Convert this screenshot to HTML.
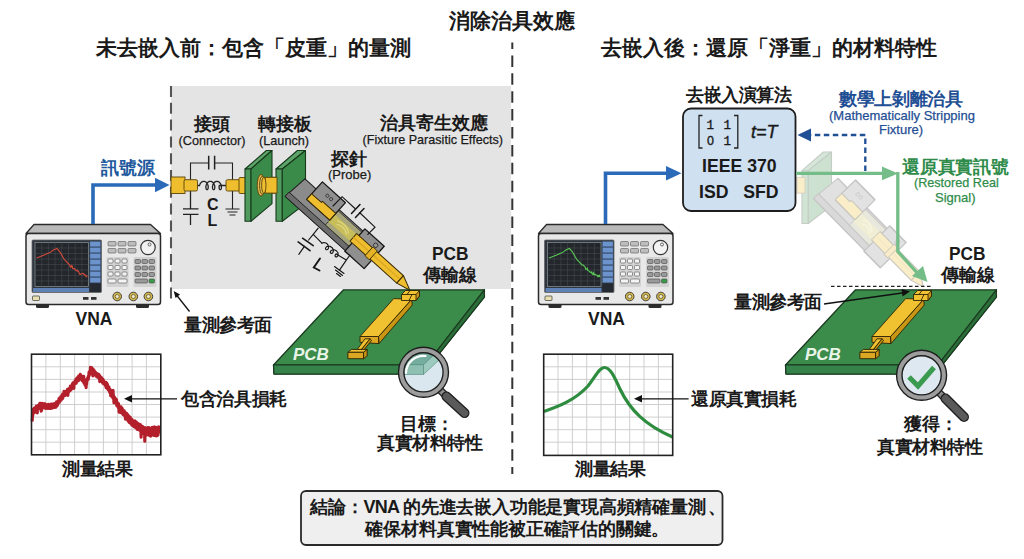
<!DOCTYPE html>
<html><head><meta charset="utf-8">
<style>
html,body{margin:0;padding:0;background:#fff;}
body{width:1024px;height:559px;position:relative;overflow:hidden;font-family:"Liberation Sans",sans-serif;color:#1a1a1a;}
.t{position:absolute;white-space:nowrap;font-weight:bold;line-height:1;}
.s{position:absolute;white-space:nowrap;line-height:1;-webkit-text-stroke:0.25px currentColor;}
svg{position:absolute;left:0;top:0;}
</style></head><body>
<svg width="1024" height="559" viewBox="0 0 1024 559">
<defs>
  <g id="vna">
    <rect x="36" y="302" width="13" height="6" rx="1.5" fill="#2d2d2d"/>
    <rect x="136" y="302" width="13" height="6" rx="1.5" fill="#2d2d2d"/>
    <path d="M34,224.5 L150.5,224.5 L160.5,233.5 L26,233.5 Z" fill="#b9b9b9" stroke="#2a2a2a" stroke-width="1.3" stroke-linejoin="round"/>
    <rect x="26" y="233.5" width="134.5" height="71" rx="2.5" fill="#e8e8e8" stroke="#2a2a2a" stroke-width="1.5"/>
    <rect x="32" y="240" width="69.5" height="52.5" rx="1" fill="#30363f" stroke="#666" stroke-width="0.8"/>
    <rect x="35" y="242.5" width="53.5" height="44" fill="#23272b" stroke="#9aa" stroke-width="0.6"/>
    <g stroke="#4a5058" stroke-width="0.5">
      <line x1="41.7" y1="242.5" x2="41.7" y2="286.5"/><line x1="48.4" y1="242.5" x2="48.4" y2="286.5"/><line x1="55.1" y1="242.5" x2="55.1" y2="286.5"/><line x1="61.8" y1="242.5" x2="61.8" y2="286.5"/><line x1="68.5" y1="242.5" x2="68.5" y2="286.5"/><line x1="75.2" y1="242.5" x2="75.2" y2="286.5"/><line x1="81.9" y1="242.5" x2="81.9" y2="286.5"/>
      <line x1="35" y1="248" x2="88.5" y2="248"/><line x1="35" y1="253.5" x2="88.5" y2="253.5"/><line x1="35" y1="259" x2="88.5" y2="259"/><line x1="35" y1="264.5" x2="88.5" y2="264.5"/><line x1="35" y1="270" x2="88.5" y2="270"/><line x1="35" y1="275.5" x2="88.5" y2="275.5"/><line x1="35" y1="281" x2="88.5" y2="281"/>
    </g>
    <g fill="#6d93cc" stroke="#3d5f90" stroke-width="0.4">
      <rect x="90" y="241.5" width="10.5" height="5.2"/><rect x="90" y="247.5" width="10.5" height="5.2"/><rect x="90" y="253.5" width="10.5" height="5.2"/><rect x="90" y="259.5" width="10.5" height="5.2"/><rect x="90" y="265.5" width="10.5" height="5.2"/><rect x="90" y="271.5" width="10.5" height="5.2"/><rect x="90" y="277.5" width="10.5" height="5.2"/>
    </g>
    <rect x="90" y="283.5" width="10.5" height="8.5" fill="#252a30"/>
    <rect x="33" y="288" width="56" height="4" fill="#5d80b5"/>
    <g fill="#bdbdbd" stroke="#555" stroke-width="0.6">
      <rect x="108" y="241.5" width="8" height="4.5" rx="1"/><rect x="118" y="241.5" width="8" height="4.5" rx="1"/><rect x="128" y="241.5" width="8" height="4.5" rx="1"/>
      <rect x="108" y="248.5" width="8" height="4.5" rx="1"/><rect x="118" y="248.5" width="8" height="4.5" rx="1"/><rect x="128" y="248.5" width="8" height="4.5" rx="1"/>
    </g>
    <circle cx="148" cy="247.5" r="7.2" fill="#f2f2f2" stroke="#333" stroke-width="1.2"/>
    <circle cx="149.5" cy="244.5" r="1.5" fill="none" stroke="#333" stroke-width="0.7"/>
    <rect x="106.5" y="257" width="22" height="30" rx="1.5" fill="#d2d2d2"/>
    <g fill="#f4f4f4" stroke="#555" stroke-width="0.6">
      <rect x="108" y="259" width="5" height="4" rx="1"/><rect x="115" y="259" width="5" height="4" rx="1"/><rect x="122" y="259" width="5" height="4" rx="1"/>
      <rect x="108" y="265.5" width="5" height="4" rx="1"/><rect x="115" y="265.5" width="5" height="4" rx="1"/><rect x="122" y="265.5" width="5" height="4" rx="1"/>
      <rect x="108" y="272" width="5" height="4" rx="1"/><rect x="115" y="272" width="5" height="4" rx="1"/><rect x="122" y="272" width="5" height="4" rx="1"/>
      <rect x="108" y="279" width="8" height="4" rx="1"/><rect x="118" y="279" width="9" height="4" rx="1"/>
    </g>
    <rect x="133.5" y="257" width="23" height="30" rx="1.5" fill="#d2d2d2"/>
    <g fill="#9a9a9a" stroke="#444" stroke-width="0.6">
      <rect x="135" y="259.5" width="5.5" height="4" rx="1"/><rect x="142" y="259.5" width="5.5" height="4" rx="1"/><rect x="149" y="259.5" width="5.5" height="4" rx="1"/>
      <rect x="135" y="266" width="5.5" height="4" rx="1"/><rect x="142" y="266" width="5.5" height="4" rx="1"/><rect x="149" y="266" width="5.5" height="4" rx="1"/>
      <rect x="135" y="272.5" width="5.5" height="4" rx="1"/><rect x="142" y="272.5" width="5.5" height="4" rx="1"/><rect x="149" y="272.5" width="5.5" height="4" rx="1"/>
      <rect x="135" y="279" width="12.5" height="4" rx="1"/>
    </g>
    <rect x="149" y="279" width="5.5" height="4" rx="1" fill="#3c9a4a" stroke="#444" stroke-width="0.6"/>
    <g fill="#d4b84a" stroke="#333" stroke-width="0.9">
      <circle cx="117.2" cy="296.5" r="4.3"/><circle cx="133.3" cy="296.5" r="4.3"/><circle cx="148.4" cy="296.5" r="4.3"/>
    </g>
    <g fill="#f4ecc0" stroke="#333" stroke-width="0.6">
      <circle cx="117.2" cy="296.5" r="2"/><circle cx="133.3" cy="296.5" r="2"/><circle cx="148.4" cy="296.5" r="2"/>
    </g>
    <rect x="32.5" y="296" width="7" height="4.5" rx="0.8" fill="#e8e0b0" stroke="#333" stroke-width="0.7"/>
    <rect x="83" y="297" width="5.5" height="2.8" fill="#333"/><rect x="91" y="297" width="5.5" height="2.8" fill="#333"/>
  </g>
  <g id="pcb">
    <path d="M273.5,365 L274,374 L423,374 L484.4,297 L484.4,289.8 Z" fill="#2f7a3c" stroke="#1b3a20" stroke-width="1.3" stroke-linejoin="round"/>
    <path d="M343.5,289.8 L484.4,289.8 L426,365 L273.5,365 Z" fill="#3b8b4a" stroke="#1b3a20" stroke-width="1.3" stroke-linejoin="round"/>
    <path d="M273.5,365 L426,365 L423,374 L274,374 Z" fill="#35824a" stroke="#1b3a20" stroke-width="1.2" stroke-linejoin="round"/>
    <path d="M426,365 L484.4,289.8 L484.4,297 L423,374 Z" fill="#2a6e38" stroke="#1b3a20" stroke-width="1.2" stroke-linejoin="round"/>
    <!-- trace -->
    <g stroke="#2e2304" stroke-width="0.9" stroke-linejoin="round">
    <path d="M360,336.5 L378.6,336.5 L378.6,343.6 L360,342.3 Z" fill="#dca823"/>
    <path d="M378.6,336.5 L411.6,299.3 L412.3,305 L379,343.6 Z" fill="#c99514"/>
    <path d="M360,336.5 L393.7,298.6 L411.6,299.3 L378.6,336.5 Z" fill="#f0c232"/>
    <path d="M365,338.8 L370,338.8 L361.5,349.5 L357.2,349.5 Z" fill="#f0c232"/>
    <path d="M370,338.8 L371.5,340.5 L363,351 L361.5,349.5 Z" fill="#c99514"/>
    <path d="M347.9,352.3 L351.4,349.4 L367.2,349.4 L363.6,352.3 Z" fill="#f0c232"/>
    <path d="M347.9,352.3 L363.6,352.3 L363.6,358.7 L347.9,358.7 Z" fill="#dca823"/>
    <path d="M363.6,352.3 L367.2,349.4 L367.2,355.8 L363.6,358.7 Z" fill="#c99514"/>
    <path d="M401.5,294.5 L405.5,290.5 L419.5,290.5 L419.5,296 L416,300.5 L401.5,300.5 Z" fill="#f0c232"/>
    <path d="M416,294.5 L419.5,290.5 L419.5,296 L416,300.5 Z" fill="#c99514"/>
    <path d="M401.5,294.5 L416,294.5 M407,294.5 L410,290.5 M409,300.5 L412,294.5" fill="none"/>
    </g>
  </g>
<g id="probeb" stroke-linejoin="round">
  <path d="M3,-24.5 L83,-24.5 L83,1.7 L0,1.7 Z" fill="#8b8b8b" stroke="#1e1e1e" stroke-width="1.1"/>
  <path d="M0,-4 L83,-4 L83,1.7 L0,1.7 Z" fill="#6c6c6c" stroke="#1e1e1e" stroke-width="0.9"/>
  <rect x="49" y="-23" width="32" height="19" fill="#a7a57c" stroke="#2a2a2a" stroke-width="0.8"/>
  <path d="M49,-18 L81,-18 L81,-8.5 L49,-8.5 Z" fill="#c7bd5a" stroke="none"/>
  <path d="M55,-15 C60,-18 68,-17 72,-13 M57,-12 C62,-15 68,-14 71,-11" fill="none" stroke="#e4dc8a" stroke-width="1.1"/>
  <rect x="18" y="-34" width="31" height="23.5" fill="#8f8f8f" stroke="#151515" stroke-width="1.3"/>
  <path d="M18,-10.5 L18,-18 L31,-18 L31,-19.6 L49,-19.6 L49,-10.5 Z" fill="#efbe2e" stroke="#3a2c05" stroke-width="1"/>
  <path d="M31,-27 m-1.6,0 a1.6,1.6 0 1 0 3.2,0 a1.6,1.6 0 1 0 -3.2,0 M36,-27 m-1.6,0 a1.6,1.6 0 1 0 3.2,0 a1.6,1.6 0 1 0 -3.2,0" fill="none" stroke="#222" stroke-width="0.7"/>
  <rect x="81" y="-27.5" width="26" height="30" fill="#8f8f8f" stroke="#151515" stroke-width="1.3"/>
  <circle cx="100" cy="-22.5" r="2.2" fill="#999" stroke="#222" stroke-width="0.8"/>
  <rect x="78" y="-18.5" width="63" height="10" fill="#efbe2e" stroke="#3a2c05" stroke-width="1"/>
  <path d="M78,-13.5 L141,-13.5" stroke="#d9a520" stroke-width="1.2"/>
  <rect x="99" y="-19.5" width="6" height="12" rx="1" fill="#e6b326" stroke="#3a2c05" stroke-width="0.9"/>
  <path d="M141,-18.5 L155.5,-12 L141,-8.5 Z" fill="#efbe2e" stroke="#3a2c05" stroke-width="1"/>
</g>
</defs>

<!-- grey box -->
<rect x="171" y="86" width="340" height="203" fill="#e4e4e4"/>
<line x1="171" y1="86" x2="171" y2="302" stroke="#555" stroke-width="2.1" stroke-dasharray="11 5.8"/>
<line x1="512.3" y1="42.4" x2="512.3" y2="474" stroke="#333" stroke-width="2.0" stroke-dasharray="11.5 6.4" stroke-dashoffset="4.9"/>

<!-- LEFT: VNA + arrow -->
<use href="#vna"/>
<g transform="translate(0,0)">
<path d="M93,224 L93,185 L157,185" fill="none" stroke="#2a6ab8" stroke-width="3.6"/>
<path d="M155,177.8 L169.5,185 L155,192.2 Z" fill="#2a6ab8"/>
</g>
<!-- screen curve left -->
<path d="M36.5,258.0 L37.1,257.7 L37.8,257.5 L38.4,257.2 L39.0,257.0 L39.7,256.7 L40.3,256.5 L41.0,256.2 L41.6,256.0 L42.2,255.7 L42.9,255.4 L43.5,255.2 L44.1,254.9 L44.8,254.7 L45.4,254.4 L46.1,254.1 L46.7,253.9 L47.3,253.6 L48.0,253.3 L48.6,253.1 L49.2,252.8 L49.9,252.5 L50.5,252.1 L51.2,251.6 L51.8,251.1 L52.4,250.7 L53.1,250.2 L53.7,249.7 L54.4,249.4 L55.0,249.2 L55.6,249.0 L56.3,248.7 L56.9,248.5 L57.5,249.1 L58.2,249.9 L58.8,250.6 L59.5,251.4 L60.1,252.2 L60.7,253.3 L61.4,254.4 L62.0,255.5 L62.6,256.6 L63.3,257.7 L63.9,258.8 L64.5,259.6 L65.2,260.3 L65.8,261.0 L66.5,261.7 L67.1,262.4 L67.7,263.0 L68.4,263.7 L69.0,264.4 L69.7,265.1 L70.3,266.9 L70.9,267.4 L71.6,265.5 L72.2,266.1 L72.8,268.5 L73.5,268.7 L74.1,269.0 L74.8,268.6 L75.4,269.8 L76.0,270.3 L76.7,270.7 L77.3,270.1 L77.9,271.3 L78.6,271.7 L79.2,273.0 L79.8,274.2 L80.5,274.4 L81.1,273.7 L81.8,273.7 L82.4,273.6 L83.0,273.3 L83.7,273.6 L84.3,275.0 L85.0,274.8 L85.6,275.1 L86.2,276.7 L86.9,275.9 L87.5,276.2" fill="none" stroke="#d84a3e" stroke-width="1.1"/>

<!-- connector circuit -->
<g stroke="#222" stroke-width="1.1" fill="none">
  <path d="M190.5,180 L190.5,163 L208.7,163 M214.6,163 L232.5,163 L232.5,180"/>
  <path d="M208.7,155.7 L208.7,169.5 M214.6,155.7 L214.6,169.5" stroke-width="1.5"/>
  <path d="M190.5,191 L190.5,208.9 M183,208.9 L198.5,208.9 M183,214.3 L198.5,214.3 M190.5,214.3 L190.5,225" stroke-width="1.3"/>
  <path d="M232.5,191 L232.5,209 M225.5,209 L239.5,209 M227.5,212 L237.5,212 M229.5,215 L235.5,215"/>
  <path d="M197,185.5 L199.5,185.5 L199.7,184.9 L199.9,184.4 L200.1,183.8 L200.4,183.3 L200.8,182.9 L201.2,182.5 L201.6,182.1 L202.0,181.8 L202.5,181.6 L202.9,181.4 L203.4,181.3 L203.9,181.3 L204.4,181.4 L204.9,181.5 L205.3,181.7 L205.8,182.0 L206.2,182.3 L206.6,182.7 L207.0,183.2 L207.3,183.7 L207.5,184.2 L207.8,184.8 L207.9,185.3 L208.1,185.9 L208.2,186.4 L208.2,187.0 L208.2,187.5 L208.2,188.0 L208.1,188.4 L208.0,188.8 L207.8,189.1 L207.6,189.4 L207.5,189.5 L207.3,189.7 L207.0,189.7 L206.8,189.7 L206.6,189.5 L206.5,189.4 L206.3,189.1 L206.1,188.8 L206.0,188.4 L205.9,188.0 L205.9,187.5 L205.9,187.0 L205.9,186.4 L206.0,185.9 L206.1,185.3 L206.3,184.8 L206.6,184.2 L206.8,183.7 L207.1,183.2 L207.5,182.7 L207.9,182.3 L208.3,182.0 L208.7,181.7 L209.2,181.5 L209.7,181.4 L210.2,181.3 L210.7,181.3 L211.2,181.4 L211.6,181.6 L212.1,181.8 L212.5,182.1 L212.9,182.5 L213.3,182.9 L213.7,183.3 L214.0,183.8 L214.2,184.4 L214.4,184.9 L214.6,185.5 L214.7,186.1 L214.8,186.6 L214.8,187.2 L214.8,187.7 L214.7,188.1 L214.6,188.5 L214.5,188.9 L214.4,189.2 L214.2,189.4 L214.0,189.6 L213.8,189.7 L213.6,189.7 L213.4,189.6 L213.2,189.5 L213.0,189.3 L212.8,189.0 L212.7,188.7 L212.6,188.3 L212.5,187.8 L212.5,187.3 L212.5,186.8 L212.5,186.2 L212.7,185.7 L212.8,185.1 L213.0,184.6 L213.2,184.0 L213.5,183.5 L213.9,183.0 L214.2,182.6 L214.6,182.2 L215.0,181.9 L215.5,181.6 L216.0,181.5 L216.5,181.3 L216.9,181.3 L217.4,181.3 L217.9,181.5 L218.4,181.6 L218.8,181.9 L219.3,182.2 L219.7,182.6 L220.0,183.0 L220.4,183.5 L220.7,184.0 L220.9,184.6 L221.1,185.1 L221.2,185.7 L221.3,186.2 L221.4,186.8 L221.4,187.3 L221.4,187.8 L221.3,188.3 L221.2,188.7 L221.1,189.0 L220.9,189.3 L220.7,189.5 L220.5,189.6 L220.3,189.7 L220.1,189.7 L219.9,189.6 L219.7,189.4 L219.5,189.2 L219.4,188.9 L219.2,188.5 L219.2,188.1 L219.1,187.7 L219.1,187.2 L219.1,186.6 L219.2,186.1 L219.3,185.5 L226,185.5" stroke-width="1.3"/>
</g>
<g stroke="#5a4308" stroke-width="0.9">
  <rect x="171" y="177" width="14" height="16.5" fill="#efbe2e"/>
  <rect x="184" y="179.7" width="13.5" height="11.3" rx="1.5" fill="#efbe2e"/>
  <rect x="226" y="179.7" width="14" height="11.3" rx="1.5" fill="#efbe2e"/>
  <rect x="239" y="177.5" width="7" height="16" rx="1" fill="#efbe2e"/>
  <rect x="260" y="177.3" width="17" height="15.8" fill="#efbe2e"/>
</g>
<!-- boards -->
<g stroke="#173a1c" stroke-width="1.1" stroke-linejoin="round">
  <path d="M245,169 L266.4,150.5 L272,150.5 L251,169 Z" fill="#5ea46a"/>
  <path d="M245,169 L251,169 L251,221.3 L245,221.3 Z" fill="#4f9a5c"/>
  <path d="M251,169 L272,150.5 L272,203.6 L251,221.3 Z" fill="#3a8a49"/>
  <path d="M276,169 L297.4,150.5 L305.5,150.5 L282.3,169 Z" fill="#5ea46a"/>
  <path d="M276,169 L282.3,169 L282.3,221.3 L276,221.3 Z" fill="#4f9a5c"/>
  <path d="M282.3,169 L305.5,150.5 L305.5,203.6 L282.3,221.3 Z" fill="#3a8a49"/>
</g>
<g stroke="#5a4308" stroke-width="0.9">
  <rect x="265" y="177.3" width="12" height="15.8" fill="#efbe2e"/>
  <ellipse cx="261" cy="185.3" rx="3.8" ry="10.8" fill="#e2b850"/>
  <ellipse cx="262.2" cy="185.3" rx="2.6" ry="9" fill="#ecc45a"/>
  <ellipse cx="263.8" cy="185.3" rx="2.2" ry="8" fill="#efbe2e"/>
</g>

<!-- probe -->
<use href="#probeb" transform="translate(286.3,195.1) rotate(42)"/>
<!-- probe circuits -->
<g stroke="#151515" stroke-width="1.15" fill="none" stroke-linecap="round">
  <path d="M333,206 L342.1,196.7 L355,208.5"/>
  <path d="M351.5,213.5 L360,204.5 M355.5,217.5 L364,208.5" stroke-width="1.5"/>
  <path d="M359.5,212.5 L375,227.2 L367.8,234.4"/>
  <path d="M318.2,228.1 L313.2,234.4 L308.6,240 M313.2,234.4 L321.9,243.2"/>
  <path d="M302.5,238.2 L313.2,245.7 M298.1,241.9 L310,250.7" stroke-width="1.5"/>
  <path d="M304.4,246.3 L298.8,254.4"/>
  <path d="M321.9,243.2 L322.3,243.0 L322.7,242.8 L323.2,242.7 L323.7,242.6 L324.2,242.6 L324.7,242.7 L325.3,242.8 L325.8,243.0 L326.3,243.3 L326.7,243.6 L327.2,243.9 L327.5,244.4 L327.9,244.8 L328.1,245.3 L328.3,245.7 L328.5,246.2 L328.6,246.7 L328.6,247.2 L328.5,247.7 L328.4,248.1 L328.3,248.5 L328.1,248.9 L327.9,249.2 L327.6,249.4 L327.3,249.6 L327.0,249.7 L326.7,249.7 L326.5,249.7 L326.2,249.7 L326.0,249.5 L325.8,249.4 L325.7,249.1 L325.6,248.9 L325.5,248.6 L325.6,248.3 L325.7,248.0 L325.8,247.6 L326.0,247.3 L326.3,247.0 L326.7,246.8 L327.1,246.6 L327.5,246.4 L328.0,246.3 L328.5,246.2 L329.0,246.2 L329.5,246.3 L330.0,246.4 L330.5,246.6 L331.0,246.9 L331.5,247.2 L331.9,247.5 L332.3,247.9 L332.6,248.4 L332.9,248.9 L333.1,249.3 L333.2,249.8 L333.3,250.3 L333.3,250.8 L333.3,251.3 L333.2,251.7 L333.1,252.1 L332.9,252.5 L332.6,252.8 L332.4,253.0 L332.1,253.2 L331.8,253.3 L331.5,253.3 L331.2,253.3 L331.0,253.3 L330.8,253.1 L330.6,252.9 L330.4,252.7 L330.3,252.5 L330.3,252.2 L330.3,251.9 L330.4,251.5 L330.6,251.2 L330.8,250.9 L331.1,250.6 L331.4,250.4 L331.8,250.2 L332.3,250.0 L332.7,249.9 L333.2,249.8 L333.7,249.8 L334.3,249.9 L334.8,250.0 L335.3,250.2 L335.8,250.5 L336.3,250.8 L336.7,251.1 L337.1,251.5 L337.4,252.0 L337.7,252.4 L337.9,252.9 L338.0,253.4 L338.1,253.9 L338.1,254.4 L338.1,254.9 L338.0,255.3 L337.8,255.7 L337.6,256.1 L337.4,256.4 L337.1,256.6 L336.9,256.8 L336.6,256.9 L336.3,256.9 L336.0,256.9 L335.7,256.8 L335.5,256.7 L335.3,256.5 L335.2,256.3 L335.1,256.1 L335.1,255.8 L335.1,255.5 L335.2,255.1 L335.4,254.8 L335.6,254.5 L335.9,254.2 L336.2,254.0"/>
  <path d="M336.2,254.0 L346.3,260.1 L350,255 M346.3,260.1 L339.5,270.1"/>
  <path d="M334.5,266.5 L344,273.5 M335.5,270 L342.5,275.5 M336.5,273.5 L340.5,276.5"/>
  <path d="M320,258.5 L313.8,267.5 L319.5,270.5" stroke-width="1.9"/>
</g>

<!-- PCB left -->
<use href="#pcb"/>

<!-- magnifier left -->
<clipPath id="lensL"><circle cx="423.5" cy="372.3" r="19.5"/></clipPath>
<g>
  <path d="M439,389 L446,396" stroke="#222" stroke-width="7.5"/>
  <path d="M439,389 L446,396" stroke="#8a8a8a" stroke-width="5"/>
  <path d="M446.5,396.5 L464.5,413" stroke="#1e1e1e" stroke-width="10" stroke-linecap="round"/>
  <path d="M446.5,396.5 L464.5,413" stroke="#5a5a5a" stroke-width="7.4" stroke-linecap="round"/>
  <circle cx="423.5" cy="372.3" r="19.5" fill="#dae7ee"/>
  <g clip-path="url(#lensL)" stroke="#4f8a7a" stroke-width="0.6" stroke-linejoin="round">
    <path d="M395,340 L450,340 L434.3,354.8 L423.5,364.7 L395,364.7 Z" fill="#74ad9d"/>
    <path d="M395,364.7 L423.5,364.7 L423.5,374.5 L395,374.5 Z" fill="#8dc0b1"/>
    <path d="M423.5,364.7 L450,340 L455,345 L423.5,374.5 Z" fill="#9ccabd"/>
  </g>
  <path d="M406,373 A17.5,17.5 0 0 1 425.5,356" fill="none" stroke="#fff" stroke-width="2.2" stroke-linecap="round"/>
  <circle cx="423.5" cy="372.3" r="22.3" fill="none" stroke="#9d9d9d" stroke-width="5"/>
  <circle cx="423.5" cy="372.3" r="25" fill="none" stroke="#1e1e1e" stroke-width="1.4"/>
  <circle cx="423.5" cy="372.3" r="19.6" fill="none" stroke="#1e1e1e" stroke-width="1.4"/>
</g>
<!-- left plot -->
<rect x="31.5" y="354.2" width="129.3" height="100.6" fill="#fff"/>
<g stroke="#c9c9c9" stroke-width="0.9">
  <line x1="45.9" y1="354" x2="45.9" y2="455"/><line x1="60.3" y1="354" x2="60.3" y2="455"/><line x1="74.6" y1="354" x2="74.6" y2="455"/><line x1="89" y1="354" x2="89" y2="455"/><line x1="103.4" y1="354" x2="103.4" y2="455"/><line x1="117.7" y1="354" x2="117.7" y2="455"/><line x1="132.1" y1="354" x2="132.1" y2="455"/><line x1="146.4" y1="354" x2="146.4" y2="455"/>
  <line x1="31.5" y1="366.8" x2="161" y2="366.8"/><line x1="31.5" y1="379.4" x2="161" y2="379.4"/><line x1="31.5" y1="392" x2="161" y2="392"/><line x1="31.5" y1="404.5" x2="161" y2="404.5"/><line x1="31.5" y1="417.1" x2="161" y2="417.1"/><line x1="31.5" y1="429.7" x2="161" y2="429.7"/><line x1="31.5" y1="442.2" x2="161" y2="442.2"/>
</g>
<path id="redc" d="M32.00,421.5 L32.18,420.5 L32.36,418.5 L32.55,413.3 L32.73,415.9 L32.91,413.9 L33.09,411.6 L33.27,411.8 L33.46,409.1 L33.64,410.2 L33.82,412.3 L34.00,412.3 L34.19,411.2 L34.37,408.1 L34.55,408.9 L34.73,412.4 L34.91,408.9 L35.10,410.0 L35.28,408.2 L35.46,410.3 L35.64,411.1 L35.83,408.4 L36.01,407.1 L36.19,407.7 L36.37,406.1 L36.55,407.5 L36.74,409.6 L36.92,407.0 L37.10,408.7 L37.28,412.9 L37.46,406.9 L37.65,406.8 L37.83,408.6 L38.01,407.8 L38.19,408.8 L38.38,405.2 L38.56,406.1 L38.74,408.0 L38.92,405.7 L39.10,407.1 L39.29,404.5 L39.47,407.6 L39.65,405.2 L39.83,403.3 L40.01,406.0 L40.20,406.0 L40.38,406.5 L40.56,406.2 L40.74,405.1 L40.92,403.2 L41.11,411.1 L41.29,406.8 L41.47,404.9 L41.65,410.4 L41.84,404.0 L42.02,405.7 L42.20,407.4 L42.38,403.9 L42.56,403.4 L42.75,403.8 L42.93,406.2 L43.11,405.7 L43.29,406.6 L43.48,404.6 L43.66,407.7 L43.84,407.3 L44.02,404.3 L44.20,407.6 L44.39,405.8 L44.57,406.1 L44.75,403.8 L44.93,405.3 L45.11,403.8 L45.30,406.3 L45.48,407.7 L45.66,408.4 L45.84,408.3 L46.02,404.6 L46.21,406.1 L46.39,405.4 L46.57,405.3 L46.75,407.2 L46.94,405.3 L47.12,408.5 L47.30,408.5 L47.48,408.2 L47.66,405.8 L47.85,404.8 L48.03,405.0 L48.21,408.1 L48.39,404.4 L48.58,406.0 L48.76,408.5 L48.94,408.4 L49.12,406.6 L49.30,405.2 L49.49,404.8 L49.67,406.8 L49.85,407.5 L50.03,407.3 L50.21,408.5 L50.40,408.0 L50.58,408.4 L50.76,406.3 L50.94,405.4 L51.12,404.0 L51.31,407.1 L51.49,405.3 L51.67,407.7 L51.85,406.9 L52.04,408.2 L52.22,405.0 L52.40,406.0 L52.58,404.9 L52.76,404.1 L52.95,406.1 L53.13,405.7 L53.31,405.2 L53.49,404.3 L53.67,403.8 L53.86,406.5 L54.04,404.9 L54.22,405.9 L54.40,407.5 L54.59,405.3 L54.77,405.6 L54.95,406.6 L55.13,407.3 L55.31,406.0 L55.50,404.6 L55.68,403.1 L55.86,404.2 L56.04,407.1 L56.23,404.4 L56.41,405.8 L56.59,401.9 L56.77,402.9 L56.95,405.1 L57.14,402.4 L57.32,405.6 L57.50,403.5 L57.68,403.5 L57.86,403.7 L58.05,403.6 L58.23,402.2 L58.41,400.8 L58.59,401.4 L58.77,402.5 L58.96,398.9 L59.14,400.7 L59.32,402.5 L59.50,398.1 L59.69,399.8 L59.87,400.9 L60.05,399.6 L60.23,398.9 L60.41,400.9 L60.60,398.0 L60.78,396.6 L60.96,399.4 L61.14,397.2 L61.33,400.0 L61.51,397.7 L61.69,397.5 L61.87,395.6 L62.05,398.6 L62.24,395.5 L62.42,398.0 L62.60,394.1 L62.78,398.4 L62.96,394.2 L63.15,396.3 L63.33,396.4 L63.51,394.2 L63.69,393.3 L63.88,394.4 L64.06,391.2 L64.24,395.6 L64.42,394.6 L64.60,393.6 L64.79,391.6 L64.97,394.6 L65.15,392.8 L65.33,395.4 L65.51,392.2 L65.70,393.9 L65.88,394.9 L66.06,391.3 L66.24,391.2 L66.42,391.2 L66.61,393.6 L66.79,391.7 L66.97,392.2 L67.15,392.4 L67.34,389.6 L67.52,389.9 L67.70,390.9 L67.88,395.4 L68.06,392.3 L68.25,390.1 L68.43,391.5 L68.61,392.1 L68.79,388.5 L68.97,389.1 L69.16,388.5 L69.34,390.3 L69.52,388.6 L69.70,388.3 L69.89,389.4 L70.07,390.6 L70.25,386.9 L70.43,386.0 L70.61,386.6 L70.80,390.0 L70.98,387.0 L71.16,386.6 L71.34,389.4 L71.53,386.9 L71.71,387.6 L71.89,388.4 L72.07,386.3 L72.25,384.3 L72.44,387.1 L72.62,383.5 L72.80,384.7 L72.98,384.4 L73.16,382.7 L73.35,386.5 L73.53,385.9 L73.71,384.1 L73.89,388.5 L74.08,382.6 L74.26,383.1 L74.44,382.7 L74.62,383.0 L74.80,384.0 L74.99,381.1 L75.17,383.3 L75.35,382.9 L75.53,380.9 L75.71,382.6 L75.90,379.3 L76.08,382.9 L76.26,383.2 L76.44,379.6 L76.62,378.6 L76.81,381.2 L76.99,380.1 L77.17,377.7 L77.35,379.4 L77.54,381.2 L77.72,377.7 L77.90,379.6 L78.08,377.4 L78.26,379.9 L78.45,380.6 L78.63,376.0 L78.81,378.4 L78.99,376.9 L79.17,378.6 L79.36,379.4 L79.54,378.7 L79.72,376.9 L79.90,376.3 L80.09,375.0 L80.27,374.3 L80.45,376.2 L80.63,378.1 L80.81,377.7 L81.00,377.1 L81.18,378.4 L81.36,379.5 L81.54,375.9 L81.72,377.6 L81.91,376.0 L82.09,380.8 L82.27,376.7 L82.45,380.1 L82.64,380.0 L82.82,381.2 L83.00,378.2 L83.18,378.7 L83.36,381.4 L83.55,378.7 L83.73,376.4 L83.91,382.9 L84.09,380.4 L84.28,379.5 L84.46,380.3 L84.64,381.7 L84.82,383.2 L85.00,385.2 L85.19,383.7 L85.37,381.7 L85.55,383.4 L85.73,383.2 L85.91,382.9 L86.10,387.7 L86.28,384.0 L86.46,383.7 L86.64,384.1 L86.83,379.9 L87.01,379.1 L87.19,380.7 L87.37,379.6 L87.55,378.4 L87.74,379.2 L87.92,379.4 L88.10,376.9 L88.28,379.3 L88.46,378.0 L88.65,375.3 L88.83,376.7 L89.01,372.3 L89.19,371.9 L89.38,375.1 L89.56,374.0 L89.74,372.8 L89.92,371.9 L90.10,373.9 L90.29,370.7 L90.47,367.2 L90.65,369.6 L90.83,369.2 L91.01,370.3 L91.20,370.9 L91.38,371.8 L91.56,367.8 L91.74,369.6 L91.92,367.9 L92.11,369.0 L92.29,368.3 L92.47,371.2 L92.65,373.0 L92.84,376.0 L93.02,369.0 L93.20,373.6 L93.38,370.8 L93.56,373.8 L93.75,372.2 L93.93,370.1 L94.11,371.5 L94.29,372.0 L94.47,373.4 L94.66,373.9 L94.84,371.5 L95.02,372.2 L95.20,374.9 L95.39,374.3 L95.57,372.3 L95.75,372.7 L95.93,375.3 L96.11,376.2 L96.30,373.8 L96.48,375.1 L96.66,375.2 L96.84,374.9 L97.03,373.6 L97.21,375.5 L97.39,374.8 L97.57,377.3 L97.75,375.2 L97.94,374.7 L98.12,376.2 L98.30,375.2 L98.48,377.6 L98.66,374.3 L98.85,374.8 L99.03,374.7 L99.21,376.8 L99.39,379.1 L99.58,377.9 L99.76,381.7 L99.94,375.8 L100.12,378.5 L100.30,379.4 L100.49,379.9 L100.67,379.6 L100.85,381.0 L101.03,381.2 L101.21,377.3 L101.40,378.0 L101.58,379.4 L101.76,381.0 L101.94,379.6 L102.12,379.6 L102.31,380.9 L102.49,381.5 L102.67,383.1 L102.85,379.0 L103.04,382.3 L103.22,379.6 L103.40,381.0 L103.58,383.9 L103.76,381.1 L103.95,383.2 L104.13,382.9 L104.31,381.9 L104.49,383.0 L104.67,382.7 L104.86,384.1 L105.04,382.4 L105.22,383.6 L105.40,384.1 L105.59,386.2 L105.77,383.7 L105.95,382.2 L106.13,387.8 L106.31,387.2 L106.50,383.1 L106.68,383.9 L106.86,383.3 L107.04,388.2 L107.22,387.9 L107.41,384.3 L107.59,388.3 L107.77,389.0 L107.95,388.4 L108.14,388.3 L108.32,387.8 L108.50,390.0 L108.68,388.5 L108.86,386.9 L109.05,387.9 L109.23,388.9 L109.41,391.7 L109.59,389.8 L109.78,389.3 L109.96,392.8 L110.14,389.8 L110.32,389.7 L110.50,394.0 L110.69,395.8 L110.87,393.2 L111.05,391.7 L111.23,391.0 L111.41,391.6 L111.60,394.7 L111.78,392.8 L111.96,396.6 L112.14,395.2 L112.33,393.2 L112.51,394.5 L112.69,396.1 L112.87,398.1 L113.05,390.3 L113.24,394.9 L113.42,394.8 L113.60,397.5 L113.78,399.3 L113.96,403.0 L114.15,399.9 L114.33,398.4 L114.51,397.0 L114.69,399.7 L114.88,400.1 L115.06,399.4 L115.24,402.1 L115.42,401.5 L115.60,398.5 L115.79,401.8 L115.97,401.5 L116.15,401.1 L116.33,401.8 L116.51,399.6 L116.70,405.4 L116.88,402.1 L117.06,405.9 L117.24,402.3 L117.42,405.2 L117.61,406.1 L117.79,403.9 L117.97,403.4 L118.15,407.2 L118.34,407.7 L118.52,403.6 L118.70,407.4 L118.88,407.3 L119.06,412.3 L119.25,406.4 L119.43,406.9 L119.61,407.7 L119.79,409.0 L119.97,412.4 L120.16,409.3 L120.34,410.0 L120.52,409.9 L120.70,407.0 L120.89,408.0 L121.07,406.7 L121.25,410.0 L121.43,409.9 L121.61,408.6 L121.80,413.3 L121.98,408.3 L122.16,408.4 L122.34,412.0 L122.53,409.4 L122.71,411.6 L122.89,411.5 L123.07,414.7 L123.25,410.9 L123.44,412.8 L123.62,413.1 L123.80,412.5 L123.98,415.3 L124.16,410.9 L124.35,412.7 L124.53,412.3 L124.71,415.0 L124.89,411.8 L125.08,413.4 L125.26,415.6 L125.44,419.1 L125.62,416.0 L125.80,413.8 L125.99,414.5 L126.17,413.0 L126.35,415.4 L126.53,413.4 L126.71,414.3 L126.90,418.6 L127.08,417.0 L127.26,416.6 L127.44,414.2 L127.62,416.2 L127.81,417.9 L127.99,421.0 L128.17,415.5 L128.35,415.8 L128.54,415.8 L128.72,419.1 L128.90,417.4 L129.08,422.4 L129.26,417.3 L129.45,422.4 L129.63,420.6 L129.81,418.6 L129.99,420.2 L130.18,417.0 L130.36,420.1 L130.54,423.4 L130.72,420.6 L130.90,422.5 L131.09,420.8 L131.27,421.9 L131.45,419.2 L131.63,423.1 L131.81,425.2 L132.00,419.4 L132.18,421.6 L132.36,424.7 L132.54,423.8 L132.72,423.1 L132.91,421.6 L133.09,424.4 L133.27,424.9 L133.45,423.8 L133.64,423.2 L133.82,426.6 L134.00,422.4 L134.18,421.1 L134.36,423.3 L134.55,421.4 L134.73,426.2 L134.91,420.7 L135.09,423.2 L135.28,426.0 L135.46,427.5 L135.64,423.9 L135.82,425.4 L136.00,426.4 L136.19,423.0 L136.37,422.0 L136.55,428.1 L136.73,422.6 L136.91,426.2 L137.10,424.2 L137.28,429.4 L137.46,429.4 L137.64,426.1 L137.82,425.0 L138.01,423.5 L138.19,428.1 L138.37,427.6 L138.55,426.1 L138.74,426.7 L138.92,429.9 L139.10,429.4 L139.28,426.1 L139.46,425.2 L139.65,424.2 L139.83,425.1 L140.01,427.8 L140.19,428.2 L140.38,424.6 L140.56,430.8 L140.74,431.4 L140.92,430.5 L141.10,437.2 L141.29,426.4 L141.47,427.7 L141.65,428.0 L141.83,429.1 L142.01,426.6 L142.20,428.4 L142.38,426.2 L142.56,426.9 L142.74,432.9 L142.93,433.5 L143.11,429.9 L143.29,431.4 L143.47,427.9 L143.65,427.7 L143.84,432.7 L144.02,433.6 L144.20,433.0 L144.38,432.3 L144.56,431.1 L144.75,441.2 L144.93,427.6 L145.11,432.4 L145.29,433.5 L145.47,428.0 L145.66,432.7 L145.84,433.1 L146.02,430.8 L146.20,434.6 L146.39,434.6 L146.57,430.1 L146.75,433.4 L146.93,434.9 L147.11,432.2 L147.30,430.1 L147.48,430.9 L147.66,432.3 L147.84,427.5 L148.03,428.5 L148.21,434.5 L148.39,428.2 L148.57,430.3 L148.75,430.3 L148.94,430.6 L149.12,427.7 L149.30,434.4 L149.48,435.4 L149.66,435.2 L149.85,428.0 L150.03,435.3 L150.21,430.0 L150.39,432.8 L150.57,436.1 L150.76,435.2 L150.94,432.5 L151.12,430.6 L151.30,428.5 L151.49,431.0 L151.67,435.0 L151.85,428.0 L152.03,434.6 L152.21,427.3 L152.40,433.4 L152.58,432.4 L152.76,429.8 L152.94,435.1 L153.12,431.6 L153.31,431.6 L153.49,430.6 L153.67,433.5 L153.85,428.0 L154.04,434.5 L154.22,435.4 L154.40,426.8 L154.58,429.5 L154.76,432.1 L154.95,427.1 L155.13,429.4 L155.31,430.6 L155.49,430.6 L155.68,433.0 L155.86,435.8 L156.04,430.2 L156.22,436.0 L156.40,429.5 L156.59,427.6 L156.77,429.9 L156.95,435.2 L157.13,430.1 L157.31,435.6 L157.50,433.3 L157.68,430.6 L157.86,428.0 L158.04,435.0 L158.22,428.7 L158.41,430.4 L158.59,430.6 L158.77,426.7 L158.95,432.5 L159.14,431.0 L159.32,431.0 L159.50,433.6" fill="none" stroke="#b41f2c" stroke-width="3.1" stroke-linejoin="round"/>
<rect x="31.5" y="354.2" width="129.3" height="100.6" fill="none" stroke="#222" stroke-width="1.6"/>
<path d="M177,398.8 L130,398.8" stroke="#111" stroke-width="1.3"/>
<path d="M124,398.8 L132,395 L132,402.6 Z" fill="#111"/>
<!-- ref plane arrow left -->
<path d="M189.5,311.5 L176.5,295" stroke="#111" stroke-width="1.3"/>
<path d="M173.7,291 L180,294.5 L175.5,298 Z" fill="#111"/>

<!-- RIGHT -->
<use href="#vna" transform="translate(512.5,0)"/>
<path d="M549.0,258.0 L549.6,257.7 L550.3,257.5 L550.9,257.2 L551.5,257.0 L552.2,256.7 L552.8,256.5 L553.5,256.2 L554.1,256.0 L554.7,255.7 L555.4,255.4 L556.0,255.2 L556.6,254.9 L557.3,254.7 L557.9,254.4 L558.6,254.1 L559.2,253.9 L559.8,253.6 L560.5,253.3 L561.1,253.1 L561.8,252.8 L562.4,252.5 L563.0,252.1 L563.7,251.6 L564.3,251.1 L564.9,250.7 L565.6,250.2 L566.2,249.7 L566.9,249.4 L567.5,249.2 L568.1,249.0 L568.8,248.7 L569.4,248.5 L570.0,249.1 L570.7,249.9 L571.3,250.6 L572.0,251.4 L572.6,252.2 L573.2,253.3 L573.9,254.4 L574.5,255.5 L575.1,256.6 L575.8,257.7 L576.4,258.8 L577.0,259.6 L577.7,260.3 L578.3,261.0 L579.0,261.7 L579.6,262.4 L580.2,263.0 L580.9,263.7 L581.5,264.4 L582.1,265.1 L582.8,265.0 L583.4,265.0 L584.1,266.2 L584.7,266.2 L585.3,267.7 L586.0,269.4 L586.6,269.0 L587.2,268.2 L587.9,270.6 L588.5,270.8 L589.2,271.1 L589.8,272.0 L590.4,272.1 L591.1,272.7 L591.7,272.0 L592.4,274.1 L593.0,274.4 L593.6,272.7 L594.3,274.5 L594.9,274.8 L595.5,274.4 L596.2,274.9 L596.8,275.1 L597.5,276.4 L598.1,275.5 L598.7,276.5 L599.4,275.4 L600.0,277.0" fill="none" stroke="#5acb55" stroke-width="1.1"/>
<path d="M605.5,224 L605.5,173.3 L668,173.3" fill="none" stroke="#2a6ab8" stroke-width="3.6"/>
<path d="M666,166 L681.5,173.3 L666,180.6 Z" fill="#2a6ab8"/>

<!-- ghost fixture -->
<g opacity="0.25">
<g stroke="#173a1c" stroke-width="1.1" stroke-linejoin="round" transform="translate(526,0) scale(1,1.01)">
  <path d="M276,169 L297.4,150.5 L305.5,150.5 L282.3,169 Z" fill="#5ea46a"/>
  <path d="M276,169 L282.3,169 L282.3,221.3 L276,221.3 Z" fill="#4f9a5c"/>
  <path d="M282.3,169 L305.5,150.5 L305.5,203.6 L282.3,221.3 Z" fill="#3a8a49"/>
</g>
<rect x="797" y="177.3" width="8" height="15.8" fill="#efbe2e" stroke="#5a4308" stroke-width="0.9"/>
<use href="#probeb" transform="translate(815,197) rotate(45.5) scale(0.9,1.2)"/>
</g>
<!-- algorithm box -->
<rect x="683" y="108.5" width="112.5" height="102.5" rx="8" fill="#cfe0f1" stroke="#1d1d1d" stroke-width="1.8"/>
<g stroke="#222" stroke-width="1.3" fill="none">
  <path d="M702.5,115.5 L699,115.5 L699,148 L702.5,148"/>
  <path d="M734,115.5 L737.8,115.5 L737.8,148 L734,148"/>
</g>
<g font-family="Liberation Mono" font-size="12.5" fill="#1a1a1a" stroke="#1a1a1a" stroke-width="0.35">
  <text x="706.5" y="129">1</text><text x="723.5" y="129">1</text>
  <text x="723.5" y="144.5">1</text>
</g>
<text x="707" y="144.5" font-family="Liberation Sans" font-size="12.5" fill="#1a1a1a" stroke="#1a1a1a" stroke-width="0.35">0</text>

<!-- blue dashed arrow -->
<path d="M865.3,171 L865.3,135 L808,135" fill="none" stroke="#1f4f94" stroke-width="2.3" stroke-dasharray="5.5 3.5"/>
<path d="M811,128.5 L797.5,135 L811,141.5 Z" fill="#1f4f94"/>
<!-- green arrow -->
<path d="M796,173.4 L884,173.4" stroke="#74bd88" stroke-width="3.3"/>
<path d="M882,166.5 L898,173.4 L882,180.3 Z" fill="#74bd88"/>
<path d="M897.8,172 L897.8,251.5 L920,276" fill="none" stroke="#74bd88" stroke-width="3.3"/>
<path d="M912,276 L927.5,282 L923,266 Z" fill="#74bd88"/>

<!-- PCB right -->
<use href="#pcb" transform="translate(512,0)"/>
<!-- ref dashed line right -->
<line x1="831" y1="286.3" x2="933" y2="286.3" stroke="#222" stroke-width="1.2" stroke-dasharray="3.5 2.5"/>
<path d="M824,304 L902,293" stroke="#111" stroke-width="1.3"/>
<path d="M910,291.5 L901.5,289 L902.5,296.5 Z" fill="#111"/>

<!-- magnifier right -->
<g>
  <path d="M938.5,392 L945,398.5" stroke="#222" stroke-width="7.5"/>
  <path d="M938.5,392 L945,398.5" stroke="#8a8a8a" stroke-width="5"/>
  <path d="M945.5,398.5 L964,417" stroke="#1e1e1e" stroke-width="10" stroke-linecap="round"/>
  <path d="M945.5,398.5 L964,417" stroke="#5a5a5a" stroke-width="7.4" stroke-linecap="round"/>
  <circle cx="921.6" cy="375.3" r="19.5" fill="#dde8f0"/>
  <path d="M909,377 L918,386 L934,367.5" fill="none" stroke="#3a9a50" stroke-width="5"/>
  <circle cx="921.6" cy="375.3" r="22.3" fill="none" stroke="#9d9d9d" stroke-width="5"/>
  <circle cx="921.6" cy="375.3" r="25" fill="none" stroke="#1e1e1e" stroke-width="1.4"/>
  <circle cx="921.6" cy="375.3" r="19.6" fill="none" stroke="#1e1e1e" stroke-width="1.4"/>
</g>
<!-- right plot -->
<rect x="543.7" y="354.2" width="129" height="101.2" fill="#fff"/>
<g stroke="#c9c9c9" stroke-width="0.9">
  <line x1="558" y1="354" x2="558" y2="455"/><line x1="572.4" y1="354" x2="572.4" y2="455"/><line x1="586.7" y1="354" x2="586.7" y2="455"/><line x1="601" y1="354" x2="601" y2="455"/><line x1="615.4" y1="354" x2="615.4" y2="455"/><line x1="629.7" y1="354" x2="629.7" y2="455"/><line x1="644" y1="354" x2="644" y2="455"/><line x1="658.4" y1="354" x2="658.4" y2="455"/>
  <line x1="543.7" y1="366.8" x2="673" y2="366.8"/><line x1="543.7" y1="379.4" x2="673" y2="379.4"/><line x1="543.7" y1="392" x2="673" y2="392"/><line x1="543.7" y1="404.5" x2="673" y2="404.5"/><line x1="543.7" y1="417.1" x2="673" y2="417.1"/><line x1="543.7" y1="429.7" x2="673" y2="429.7"/><line x1="543.7" y1="442.2" x2="673" y2="442.2"/>
</g>
<path d="M544,411.5 C560,406 575,400 588,386 C596,376 599,368 604,367.5 C610,367 614,376 620,389 C630,410 645,425 672.5,437" fill="none" stroke="#2e8c3f" stroke-width="3.2"/>
<rect x="543.7" y="354.2" width="129" height="101.2" fill="none" stroke="#222" stroke-width="1.6"/>
<path d="M688.6,398.8 L640,398.8" stroke="#111" stroke-width="1.3"/>
<path d="M634,398.8 L642,395 L642,402.6 Z" fill="#111"/>

<!-- conclusion box -->
<rect x="301" y="491" width="421.5" height="54" rx="5" fill="#efefef" stroke="#2a2a2a" stroke-width="1.8"/>
</svg>
<div class="t" style="left:449px;top:10px;font-size:21px;">消除治具效應</div>
<div class="t" style="left:96px;top:37px;font-size:21px;">未去嵌入前：包含「皮重」的量測</div>
<div class="t" style="left:601px;top:37px;font-size:21px;">去嵌入後：還原「淨重」的材料特性</div>

<div class="t" style="left:194px;top:114.5px;font-size:18px;">接頭</div>
<div class="s" style="left:178.5px;top:134.5px;font-size:12.7px;">(Connector)</div>
<div class="t" style="left:258px;top:114.5px;font-size:18px;">轉接板</div>
<div class="s" style="left:259px;top:134.5px;font-size:12.7px;">(Launch)</div>
<div class="t" style="left:380px;top:114px;font-size:18px;">治具寄生效應</div>
<div class="s" style="left:362.5px;top:134px;font-size:12.6px;">(Fixture Parasitic Effects)</div>
<div class="t" style="left:331px;top:150px;font-size:18px;">探針</div>
<div class="s" style="left:328px;top:168px;font-size:13px;">(Probe)</div>
<div class="t" style="left:101px;top:159px;font-size:18px;color:#1f5a9e;">訊號源</div>
<div class="t" style="left:207px;top:197px;font-size:16px;">C</div>
<div class="t" style="left:207.5px;top:213px;font-size:16px;">L</div>
<div class="t" style="left:431.5px;top:244px;font-size:19px;transform:scaleX(0.91);transform-origin:0 0;">PCB</div>
<div class="t" style="left:423px;top:266px;font-size:18px;">傳輸線</div>
<div class="t" style="left:75.5px;top:311px;font-size:17.5px;">VNA</div>
<div class="t" style="letter-spacing:-0.5px;left:184px;top:316px;font-size:18px;">量測參考面</div>
<div class="t" style="left:293px;top:346px;font-size:17px;color:#e8f5e8;font-style:italic;">PCB</div>
<div class="t" style="letter-spacing:-0.35px;left:181px;top:390px;font-size:18px;">包含治具損耗</div>
<div class="t" style="letter-spacing:-0.45px;left:62px;top:460px;font-size:18px;">測量結果</div>
<div class="t" style="left:400px;top:414.5px;font-size:18px;">目標：</div>
<div class="t" style="letter-spacing:-0.4px;left:377px;top:434px;font-size:18px;">真實材料特性</div>

<div class="t" style="letter-spacing:-0.45px;left:686px;top:86px;font-size:18px;">去嵌入演算法</div>
<div class="s" style="left:751px;top:123px;font-size:18px;font-style:italic;-webkit-text-stroke:0.4px #1a1a1a;">t=T</div>
<div class="t" style="left:702px;top:156px;font-size:19px;transform:scaleX(0.93);transform-origin:0 0;">IEEE 370</div>
<div class="t" style="left:699px;top:182px;font-size:19px;transform:scaleX(0.93);transform-origin:0 0;">ISD&nbsp;&nbsp;&nbsp;SFD</div>
<div class="t" style="letter-spacing:-0.35px;left:839px;top:90px;font-size:18px;color:#1f4f94;">數學上剝離治具</div>
<div class="s" style="left:829px;top:109px;font-size:13px;color:#1f4f94;">(Mathematically Stripping</div>
<div class="s" style="left:879px;top:123px;font-size:13px;color:#1f4f94;">Fixture)</div>
<div class="t" style="letter-spacing:-0.2px;left:902px;top:158px;font-size:18px;color:#2f8c4a;">還原真實訊號</div>
<div class="s" style="left:914px;top:177px;font-size:12.6px;color:#2f8c4a;">(Restored Real</div>
<div class="s" style="left:935px;top:191px;font-size:13px;color:#2f8c4a;">Signal)</div>
<div class="t" style="left:949.3px;top:244px;font-size:19px;transform:scaleX(0.91);transform-origin:0 0;">PCB</div>
<div class="t" style="left:941px;top:266px;font-size:18px;">傳輸線</div>
<div class="t" style="left:588px;top:311px;font-size:17.5px;">VNA</div>
<div class="t" style="letter-spacing:-0.5px;left:734px;top:292.5px;font-size:18px;">量測參考面</div>
<div class="t" style="left:805px;top:346px;font-size:17px;color:#e8f5e8;font-style:italic;">PCB</div>
<div class="t" style="letter-spacing:-0.45px;left:691px;top:390px;font-size:18px;">還原真實損耗</div>
<div class="t" style="letter-spacing:-0.45px;left:575px;top:460px;font-size:18px;">測量結果</div>
<div class="t" style="left:904px;top:414.5px;font-size:18px;">獲得：</div>
<div class="t" style="letter-spacing:-0.4px;left:877px;top:438px;font-size:18px;">真實材料特性</div>

<div class="t" style="left:310px;top:498px;font-size:18px;letter-spacing:-0.2px;">結論：<span style="letter-spacing:-0.7px">VNA </span>的先進去嵌入功能是實現高頻精確量測<span style="margin-left:2px">、</span></div>
<div class="t" style="left:365px;top:520px;font-size:18px;letter-spacing:-0.1px;">確保材料真實性能被正確評估的關鍵。</div>

</body></html>
